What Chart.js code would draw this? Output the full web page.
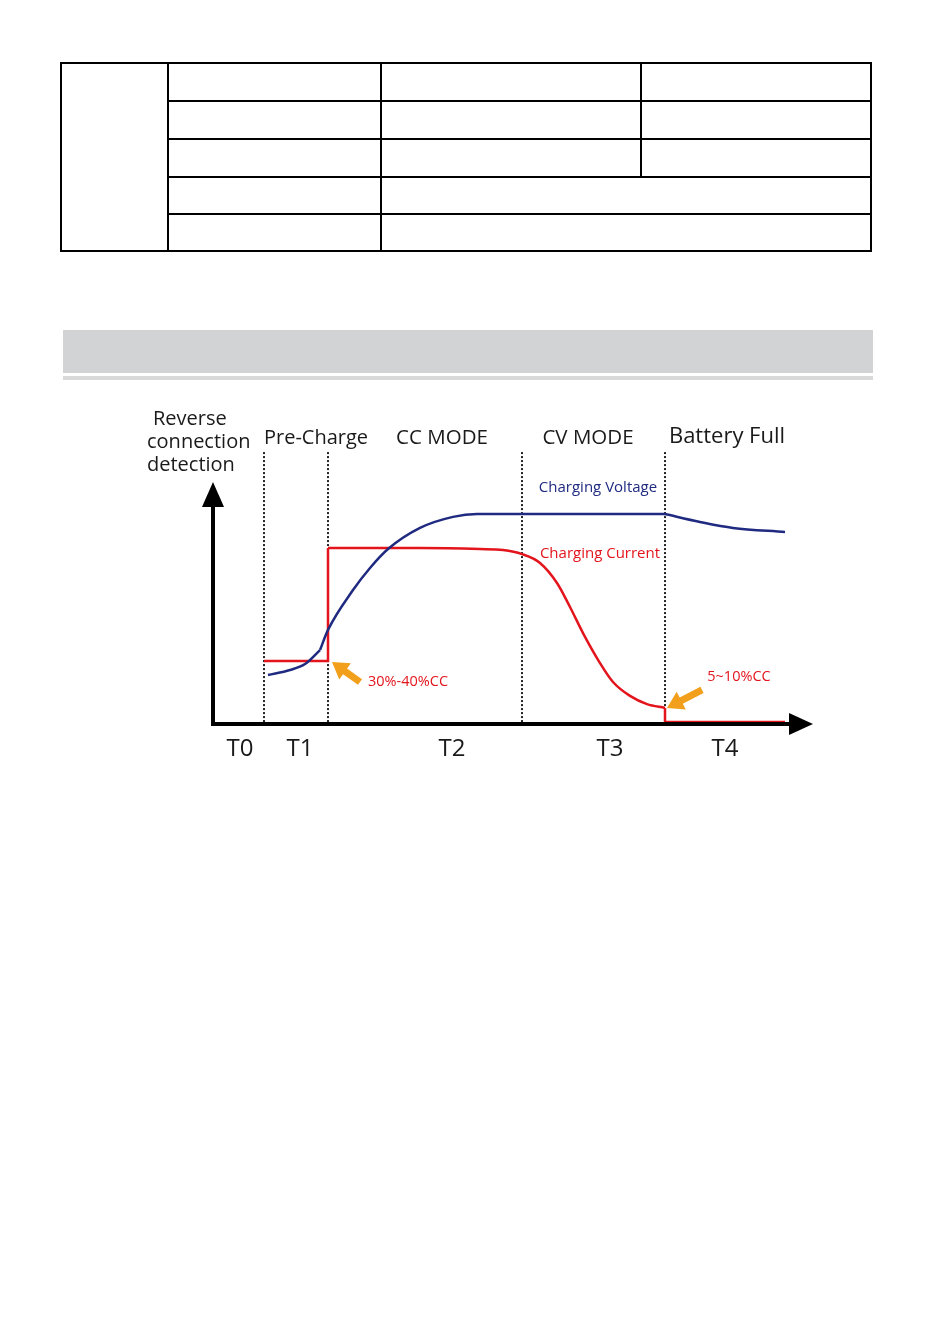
<!DOCTYPE html>
<html>
<head>
<meta charset="utf-8">
<script src="https://cdn.jsdelivr.net/npm/chart.js@4.4.1/dist/chart.umd.min.js"></script>
<style>
  body { margin: 0; background: #fff; width: 933px; height: 1324px; position: relative; overflow: hidden; }
  .ln { position: absolute; background: #000; }
  #bar { position: absolute; left: 63px; top: 330px; width: 810px; height: 43px; background: #d2d3d5; }
  #rule { position: absolute; left: 63px; top: 376px; width: 810px; height: 4px; background: #d9d9d9; }
  #wrap { position: absolute; left: 0; top: 390px; }
</style>
</head>
<body>
<!-- empty spec table -->
<div class="ln" style="left:60px;top:62px;width:812px;height:2px"></div>
<div class="ln" style="left:60px;top:250px;width:812px;height:2px"></div>
<div class="ln" style="left:60px;top:62px;width:2px;height:190px"></div>
<div class="ln" style="left:870px;top:62px;width:2px;height:190px"></div>
<div class="ln" style="left:167px;top:62px;width:2px;height:190px"></div>
<div class="ln" style="left:380px;top:62px;width:2px;height:190px"></div>
<div class="ln" style="left:640px;top:62px;width:2px;height:115px"></div>
<div class="ln" style="left:167px;top:100px;width:705px;height:2px"></div>
<div class="ln" style="left:167px;top:138px;width:705px;height:2px"></div>
<div class="ln" style="left:167px;top:176px;width:705px;height:2px"></div>
<div class="ln" style="left:167px;top:213px;width:705px;height:2px"></div>

<div id="bar"></div>
<div id="rule"></div>

<div id="wrap"><canvas id="chart" width="933" height="400"></canvas></div>

<script>
// charging curve, time in arbitrary units, level in % of axis height
const voltageTime = [55, 77, 92, 107, 115, 140, 157, 175, 207, 240, 264, 307, 452, 487, 520, 572];
const voltageLevel = [20.4, 22.5, 25, 30.8, 39.2, 55.8, 65, 72.9, 81.7, 86.3, 87.5, 87.5, 87.5, 84.2, 81.7, 80];
const currentTime = [51, 115, 115, 207, 267, 290, 309, 327, 344, 357, 370, 387, 400, 417, 434, 452, 452, 572];
const currentLevel = [26.25, 26.25, 73.3, 73.3, 72.9, 72.5, 70.8, 67.1, 58.75, 48.75, 37.9, 25.4, 17.5, 11.7, 8.3, 6.7, 0.8, 0.8];

// phase boundaries and labels
const phaseBounds = [51, 115, 309, 452];
const phaseNames = ['Pre-Charge', 'CC MODE', 'CV MODE', 'Battery Full'];
const phaseLabelX = [103, 229, 375, 514];
const timeNames = ['T0', 'T1', 'T2', 'T3', 'T4'];
const timeLabelX = [27, 87, 239, 397, 512];

const BLUE = '#1f2a80';
const RED = '#e3141c';
const ORANGE = '#f2a01c';

function piece(xs, ys, from, to, color, curved) {
    const pts = [];
    for (let i = from; i <= to; i++) pts.push({ x: xs[i], y: ys[i] });
    return {
        data: pts,
        borderColor: color,
        borderWidth: 2.5,
        pointRadius: 0,
        showLine: true,
        fill: false,
        tension: curved ? 0.4 : 0,
        cubicInterpolationMode: curved ? 'monotone' : 'default'
    };
}

const extras = {
    id: 'extras',
    beforeDatasetsDraw(chart) {
        const ctx = chart.ctx;
        const X = v => chart.scales.x.getPixelForValue(v);
        const Y = v => chart.scales.y.getPixelForValue(v);
        // dotted phase separators
        ctx.save();
        ctx.strokeStyle = '#222';
        ctx.lineWidth = 2;
        ctx.setLineDash([2, 2]);
        phaseBounds.forEach(b => {
            ctx.beginPath();
            ctx.moveTo(Math.round(X(b)), Y(113.3));
            ctx.lineTo(Math.round(X(b)), Y(0));
            ctx.stroke();
        });
        ctx.restore();
    },
    afterDatasetsDraw(chart) {
        const ctx = chart.ctx;
        const area = chart.chartArea;
        const X = v => chart.scales.x.getPixelForValue(v);
        const Y = v => chart.scales.y.getPixelForValue(v);
        ctx.save();

        // axes with arrow heads
        ctx.strokeStyle = '#000';
        ctx.fillStyle = '#000';
        ctx.lineWidth = 4;
        ctx.beginPath();
        ctx.moveTo(area.left, area.bottom);
        ctx.lineTo(area.right - 18, area.bottom);
        ctx.moveTo(area.left, area.bottom + 2);
        ctx.lineTo(area.left, area.top + 18);
        ctx.stroke();
        ctx.beginPath();
        ctx.moveTo(area.right, area.bottom);
        ctx.lineTo(area.right - 24, area.bottom - 11);
        ctx.lineTo(area.right - 24, area.bottom + 11);
        ctx.closePath();
        ctx.fill();
        ctx.beginPath();
        ctx.moveTo(area.left, area.top - 2);
        ctx.lineTo(area.left - 11, area.top + 23);
        ctx.lineTo(area.left + 11, area.top + 23);
        ctx.closePath();
        ctx.fill();

        // orange pointers
        function pointer(tx, ty, sx, sy) {
            const x1 = X(tx), y1 = Y(ty), x0 = X(sx), y0 = Y(sy);
            const a = Math.atan2(y1 - y0, x1 - x0);
            const headLen = 16, headW = 10, shaft = 3.5;
            const bx = x1 - headLen * Math.cos(a), by = y1 - headLen * Math.sin(a);
            const nx = -Math.sin(a), ny = Math.cos(a);
            ctx.fillStyle = ORANGE;
            ctx.beginPath();
            ctx.moveTo(x0 + nx * shaft, y0 + ny * shaft);
            ctx.lineTo(bx + nx * shaft, by + ny * shaft);
            ctx.lineTo(bx + nx * headW, by + ny * headW);
            ctx.lineTo(x1, y1);
            ctx.lineTo(bx - nx * headW, by - ny * headW);
            ctx.lineTo(bx - nx * shaft, by - ny * shaft);
            ctx.lineTo(x0 - nx * shaft, y0 - ny * shaft);
            ctx.closePath();
            ctx.fill();
        }
        pointer(119, 25.8, 147, 17.5);
        pointer(454, 6.7, 489, 14.2);

        // texts
        ctx.textBaseline = 'middle';
        ctx.fillStyle = '#1a1a1a';
        ctx.font = '20px "Open Sans"';
        ctx.textAlign = 'left';
        ctx.fillText('Reverse', X(-60), Y(127));
        ctx.fillText('connection', X(-66), Y(117.5));
        ctx.fillText('detection', X(-66), Y(108));

        ctx.textAlign = 'center';
        phaseNames.forEach((n, i) => {
            ctx.font = i === 3 ? '22px "Open Sans"' : (i === 0 ? '20px "Open Sans"' : '20.5px "Open Sans"');
            ctx.fillText(n, X(phaseLabelX[i]), Y(i === 3 ? 119.6 : 119));
        });

        ctx.font = '24px "Open Sans"';
        timeNames.forEach((n, i) => ctx.fillText(n, X(timeLabelX[i]), Y(-10.5)));

        ctx.font = '15px "Open Sans"';
        ctx.fillStyle = BLUE;
        ctx.fillText('Charging Voltage', X(385), Y(98.3));
        ctx.fillStyle = RED;
        ctx.fillText('Charging Current', X(387), Y(70.8));
        ctx.font = '14.5px "Open Sans"';
        ctx.fillText('30%-40%CC', X(195), Y(17.5));
        ctx.fillText('5~10%CC', X(526), Y(19.6));
        ctx.restore();
    }
};

new Chart(document.getElementById('chart').getContext('2d'), {
    type: 'scatter',
    data: {
        datasets: [
            piece(voltageTime, voltageLevel, 0, 3, BLUE, true),
            piece(voltageTime, voltageLevel, 3, 12, BLUE, true),
            piece(voltageTime, voltageLevel, 12, 15, BLUE, true),
            piece(currentTime, currentLevel, 0, 2, RED, false),
            piece(currentTime, currentLevel, 2, 15, RED, true),
            piece(currentTime, currentLevel, 15, 17, RED, false)
        ]
    },
    options: {
        responsive: false,
        animation: false,
        layout: { padding: { left: 213, right: 120, top: 94, bottom: 66 } },
        plugins: { legend: { display: false }, tooltip: { enabled: false } },
        scales: {
            x: { type: 'linear', min: 0, max: 600, display: false },
            y: { min: 0, max: 100, display: false }
        }
    },
    plugins: [extras]
});
</script>
</body>
</html>
